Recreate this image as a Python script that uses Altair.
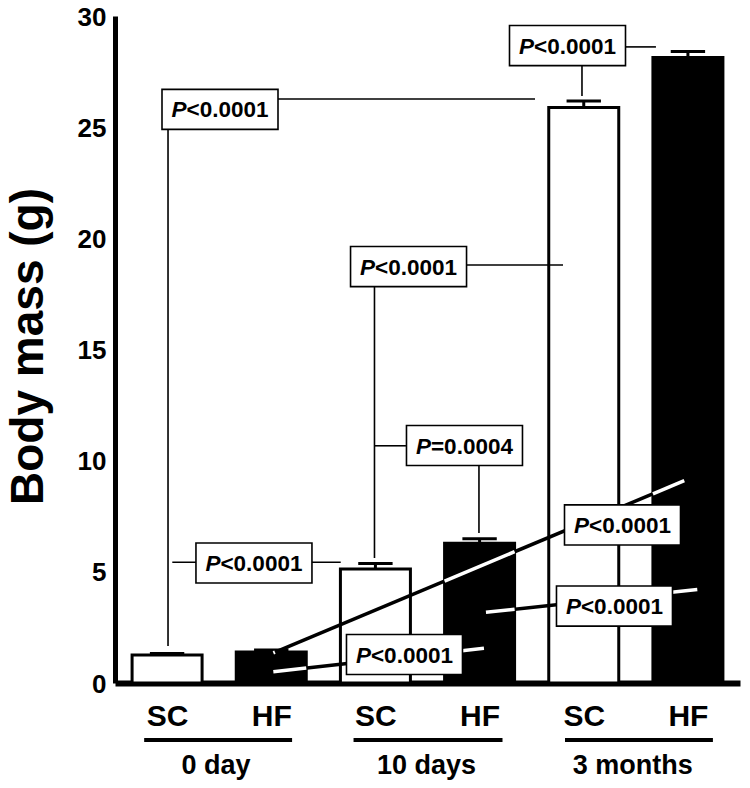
import altair as alt
import pandas as pd

# ---------------- data ----------------
groups = ["0 day", "10 days", "3 months"]
diets = ["SC", "HF"]
means = [1.26, 1.39, 5.13, 6.29, 25.88, 28.13]
sems = [0.07, 0.09, 0.25, 0.20, 0.30, 0.27]

# annotation boxes: centre (bar-index units, grams) and text
ann_text = ["P<0.0001", "P<0.0001", "P<0.0001", "P=0.0004",
            "P<0.0001", "P<0.0001", "P<0.0001", "P<0.0001"]
ann_x = [0.508, 3.844, 2.318, 2.855, 0.834, 4.372, 4.295, 2.279]
ann_y = [25.80, 28.67, 18.73, 10.68, 5.40, 7.11, 3.46, 1.28]

# thin connector lines
thin_x1 = [1.065, 0.009, 4.405, 3.983, 2.879, 1.991, 1.991, 2.994, 0.050]
thin_y1 = [26.27, 24.87, 28.61, 27.75, 18.80, 17.81, 10.67, 9.76, 5.43]
thin_x2 = [3.532, 0.009, 4.693, 3.983, 3.801, 1.991, 2.293, 2.994, 1.667]
thin_y2 = [26.27, 1.66, 28.61, 26.40, 18.80, 5.62, 10.67, 6.75, 5.43]

# thick connector lines (HF comparisons)
thick_x1 = [1.020, 1.020, 3.061]
thick_y1 = [1.36, 0.51, 3.18]
thick_x2 = [4.965, 3.042, 5.090]
thick_y2 = [9.10, 1.56, 4.21]

# group underline extents (bar-index units)
group_start = [-0.22, 1.79, 3.82]
group_end = [1.20, 3.22, 5.24]
group_label_x = [0.47, 2.49, 4.47]

# ---------------- tables ----------------
HALF = 0.336
CAP = 0.165
n = len(means)
bars = pd.DataFrame({
    "pos": list(range(n)),
    "diet": [diets[i % 2] for i in range(n)],
    "group": [groups[i // 2] for i in range(n)],
    "mean": means,
    "zero": [0.0] * n,
    "top": [m + s for m, s in zip(means, sems)],
})
bars["left"] = bars["pos"] - HALF
bars["right"] = bars["pos"] + HALF
bars["capL"] = bars["pos"] - CAP
bars["capR"] = bars["pos"] + CAP

ann = pd.DataFrame({
    "x": ann_x, "y": ann_y,
    "p": [t[0] for t in ann_text],
    "rest": [t[1:] for t in ann_text],
})
thin = pd.DataFrame({"x1": thin_x1, "y1": thin_y1, "x2": thin_x2, "y2": thin_y2})
thick = pd.DataFrame({"x1": thick_x1, "y1": thick_y1, "x2": thick_x2, "y2": thick_y2})


def clip(x1, y1, x2, y2, xmin, xmax, ymin, ymax):
    dx, dy = x2 - x1, y2 - y1
    t0, t1 = 0.0, 1.0
    for p, q in ((-dx, x1 - xmin), (dx, xmax - x1), (-dy, y1 - ymin), (dy, ymax - y1)):
        if p == 0:
            if q < 0:
                return None
        else:
            t = q / p
            if p < 0:
                t0 = max(t0, t)
            else:
                t1 = min(t1, t)
    if t0 >= t1:
        return None
    return (x1 + t0 * dx, y1 + t0 * dy, x1 + t1 * dx, y1 + t1 * dy)


white_rows = []
for _, ln in thick.iterrows():
    for _, b in bars[bars["diet"] == "HF"].iterrows():
        seg = clip(ln.x1, ln.y1, ln.x2, ln.y2, b.left, b.right, 0.0, b["mean"])
        if seg:
            white_rows.append(dict(zip(["x1", "y1", "x2", "y2"], seg)))
white = pd.DataFrame(white_rows)

glines = pd.DataFrame({"s": group_start, "e": group_end, "cx": group_label_x, "g": groups})

# ---------------- scales / axes ----------------
FONT = "Liberation Sans"
xs = alt.Scale(domain=[-0.5, 5.5], nice=False, zero=False)
ys = alt.Scale(domain=[0, 30], nice=False, zero=False)

label_expr = "[" + ",".join("'%s'" % d for d in diets) + "][datum.value % 2]"
x_axis = alt.Axis(values=list(range(n)), labelExpr=label_expr, title=None, grid=False,
                  domainColor="black", domainWidth=6, ticks=False, tickSize=0,
                  labelFontSize=30, labelFontWeight="bold", labelFont=FONT,
                  labelColor="black", labelPadding=18, labelFlush=False,
                  labelOverlap=False, labelBaseline="top")
y_axis = alt.Axis(values=[0, 5, 10, 15, 20, 25, 30], title="Body mass (g)", grid=False,
                  domainColor="black", domainWidth=5, ticks=False, tickSize=0,
                  labelFontSize=26, labelFontWeight="bold", labelFont=FONT,
                  labelColor="black", labelPadding=9, labelOffset=1,
                  titleFontSize=46, titleFontWeight="bold", titleFont=FONT,
                  titleColor="black", titleAngle=270, titleX=-73, titleY=330,
                  titleAlign="center", titleBaseline="alphabetic")


def X(f):
    return alt.X(f, type="quantitative", scale=xs, axis=x_axis)


def Y(f):
    return alt.Y(f, type="quantitative", scale=ys, axis=y_axis)


bar_layer = alt.Chart(bars).mark_rect(stroke="black", strokeWidth=3).encode(
    x=X("left"), x2="right",
    y=Y("mean"), y2="zero",
    fill=alt.Fill("diet:N", scale=alt.Scale(domain=diets, range=["white", "black"]), legend=None),
)
stem = alt.Chart(bars).mark_rule(color="black", strokeWidth=3).encode(
    x=X("pos"), y=Y("mean"), y2="top")
cap = alt.Chart(bars).mark_rule(color="black", strokeWidth=3).encode(
    x=X("capL"), x2="capR", y=Y("top"))

thin_layer = alt.Chart(thin).mark_rule(color="black", strokeWidth=1.6).encode(
    x=X("x1"), x2="x2", y=Y("y1"), y2="y2")
thick_black = alt.Chart(thick).mark_rule(color="black", strokeWidth=3.5).encode(
    x=X("x1"), x2="x2", y=Y("y1"), y2="y2")
thick_white = alt.Chart(white).mark_rule(color="white", strokeWidth=3.5).encode(
    x=X("x1"), x2="x2", y=Y("y1"), y2="y2")

boxes = alt.Chart(ann).mark_point(
    shape="M-1,-0.345L1,-0.345L1,0.345L-1,0.345Z", size=116 * 116,
    fill="white", fillOpacity=1, stroke="black", strokeWidth=1.6, opacity=1,
).encode(x=X("x"), y=Y("y"))

p_text = alt.Chart(ann).mark_text(
    align="left", baseline="middle", dx=-48.5, dy=1, fontSize=22.5, font=FONT,
    fontStyle="italic", fontWeight="bold", color="black",
).encode(x=X("x"), y=Y("y"), text="p:N")
rest_text = alt.Chart(ann).mark_text(
    align="left", baseline="middle", dx=-33.5, dy=1, fontSize=22.5, font=FONT,
    fontWeight="bold", color="black",
).encode(x=X("x"), y=Y("y"), text="rest:N")

g_rule = alt.Chart(glines).mark_rule(color="black", strokeWidth=4).encode(
    x=X("s"), x2="e", y=alt.value(724))
g_text = alt.Chart(glines).mark_text(
    align="center", baseline="alphabetic", fontSize=27, font=FONT,
    fontWeight="bold", color="black",
).encode(x=X("cx"), y=alt.value(758), text="g:N")

chart = alt.layer(
    bar_layer, stem, cap, thin_layer, thick_black, thick_white,
    boxes, p_text, rest_text, g_rule, g_text,
).properties(
    width=625, height=667,
    padding={"left": 107, "top": 8, "right": 2, "bottom": 97},
    autosize=alt.AutoSizeParams(type="none"),
    background="white",
).configure(font=FONT).configure_view(strokeWidth=0, stroke="transparent")

chart.save("out.html", embed_options={"renderer": "svg", "actions": False})
